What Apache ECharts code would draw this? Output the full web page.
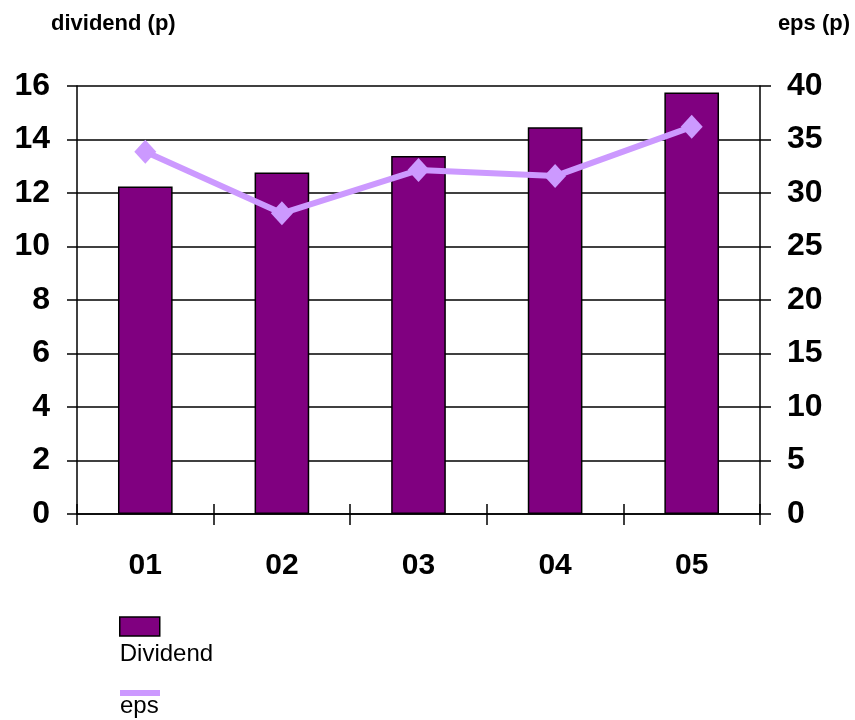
<!DOCTYPE html>
<html>
<head>
<meta charset="utf-8">
<title>Dividend and EPS</title>
<script src="https://cdn.jsdelivr.net/npm/echarts@6/dist/echarts.min.js"></script>
<style>
  html, body { margin: 0; padding: 0; background: #ffffff; }
  #chart { width: 855px; height: 720px; }
</style>
</head>
<body>
<div id="chart"></div>
<script>
// Financial years
const years = ['01', '02', '03', '04', '05'];
// Dividend per share (pence), left axis
const dividend = [12.24, 12.77, 13.38, 14.46, 15.76];
// Earnings per share (pence), right axis
const eps = [33.85, 28.1, 32.14, 31.58, 36.18];

const FONT = '"Liberation Sans", Arial, sans-serif';
const BAR_COLOR = '#800080';
const LINE_COLOR = '#CC99FF';

const chart = echarts.init(document.getElementById('chart'), null, { renderer: 'canvas' });

const valueLabelStyle = { fontFamily: FONT, fontSize: 32, fontWeight: 'bold', color: '#000' };
const categoryLabelStyle = { fontFamily: FONT, fontSize: 30, fontWeight: 'bold', color: '#000' };

// Legend text sits under its swatch: an empty first line pushes the name down,
// and a negative left padding pulls it back under the swatch. The two-line text
// block is centred on the swatch, so the block's top lies above the swatch top;
// the legend's top is moved up by that amount to keep the swatch at swatchTop.
function legendBlock(name, left, swatchTop, swatchHeight, lineHeight, swatchStyle) {
  return {
    data: [name],
    left: left,
    top: swatchTop - (lineHeight - swatchHeight / 2),
    padding: 0,
    orient: 'vertical',
    icon: 'rect',
    itemWidth: 40, itemHeight: swatchHeight,
    itemGap: 0,
    itemStyle: swatchStyle,
    formatter: function (n) { return '\n' + n; },
    textStyle: {
      fontFamily: FONT, fontSize: 24, color: '#000',
      lineHeight: lineHeight,
      padding: [0, 0, 0, -45]
    }
  };
}

chart.setOption({
  animation: false,
  backgroundColor: '#ffffff',
  grid: { left: 77, right: 95, top: 86, bottom: 206, containLabel: false },
  graphic: [
    {
      type: 'text', left: 51, top: 13,
      style: { text: 'dividend (p)', font: 'bold 22px ' + FONT, fill: '#000' }
    },
    {
      type: 'text', right: 5, top: 13,
      style: { text: 'eps (p)', font: 'bold 22px ' + FONT, fill: '#000' }
    }
  ],
  legend: [
    legendBlock('Dividend', 119, 617, 19, 55, { borderColor: '#000', borderWidth: 1.5 }),
    legendBlock('eps', 120, 690, 6, 27, { color: LINE_COLOR, borderWidth: 0 })
  ],
  xAxis: [
    {
      type: 'category',
      data: years,
      position: 'bottom',
      boundaryGap: true,
      axisLine: { lineStyle: { color: '#000', width: 1.5 } },
      axisTick: { show: true, inside: false, length: 11, lineStyle: { color: '#000', width: 1.5 } },
      axisLabel: Object.assign({ margin: 37 }, categoryLabelStyle),
      splitLine: { show: false }
    },
    {
      // upper half of the crossing category ticks
      type: 'category',
      data: years,
      position: 'bottom',
      boundaryGap: true,
      axisLine: { show: false },
      axisTick: { show: true, inside: true, length: 10, lineStyle: { color: '#000', width: 1.5 } },
      axisLabel: { show: false },
      splitLine: { show: false }
    }
  ],
  yAxis: [
    {
      type: 'value',
      min: 0, max: 16, interval: 2,
      position: 'left',
      axisLine: { show: true, lineStyle: { color: '#000', width: 1.5 } },
      axisTick: { show: true, length: 10, lineStyle: { color: '#000', width: 1.5 } },
      axisLabel: Object.assign({ margin: 27 }, valueLabelStyle),
      splitLine: { show: true, lineStyle: { color: '#000', width: 1.5 } }
    },
    {
      type: 'value',
      min: 0, max: 40, interval: 5,
      position: 'right',
      axisLine: { show: true, lineStyle: { color: '#000', width: 1.5 } },
      axisTick: { show: true, length: 11, lineStyle: { color: '#000', width: 1.5 } },
      axisLabel: Object.assign({ margin: 27 }, valueLabelStyle),
      splitLine: { show: false }
    }
  ],
  series: [
    {
      name: 'Dividend',
      type: 'bar',
      xAxisIndex: 0,
      yAxisIndex: 0,
      data: dividend,
      barWidth: '40%',
      itemStyle: { color: BAR_COLOR, borderColor: '#000', borderWidth: 1.5 },
      z: 2
    },
    {
      name: 'eps',
      type: 'line',
      xAxisIndex: 0,
      yAxisIndex: 1,
      data: eps,
      symbol: 'diamond',
      symbolSize: [22, 24],
      lineStyle: { color: LINE_COLOR, width: 6 },
      itemStyle: { color: LINE_COLOR },
      z: 3
    }
  ]
});
</script>
</body>
</html>
